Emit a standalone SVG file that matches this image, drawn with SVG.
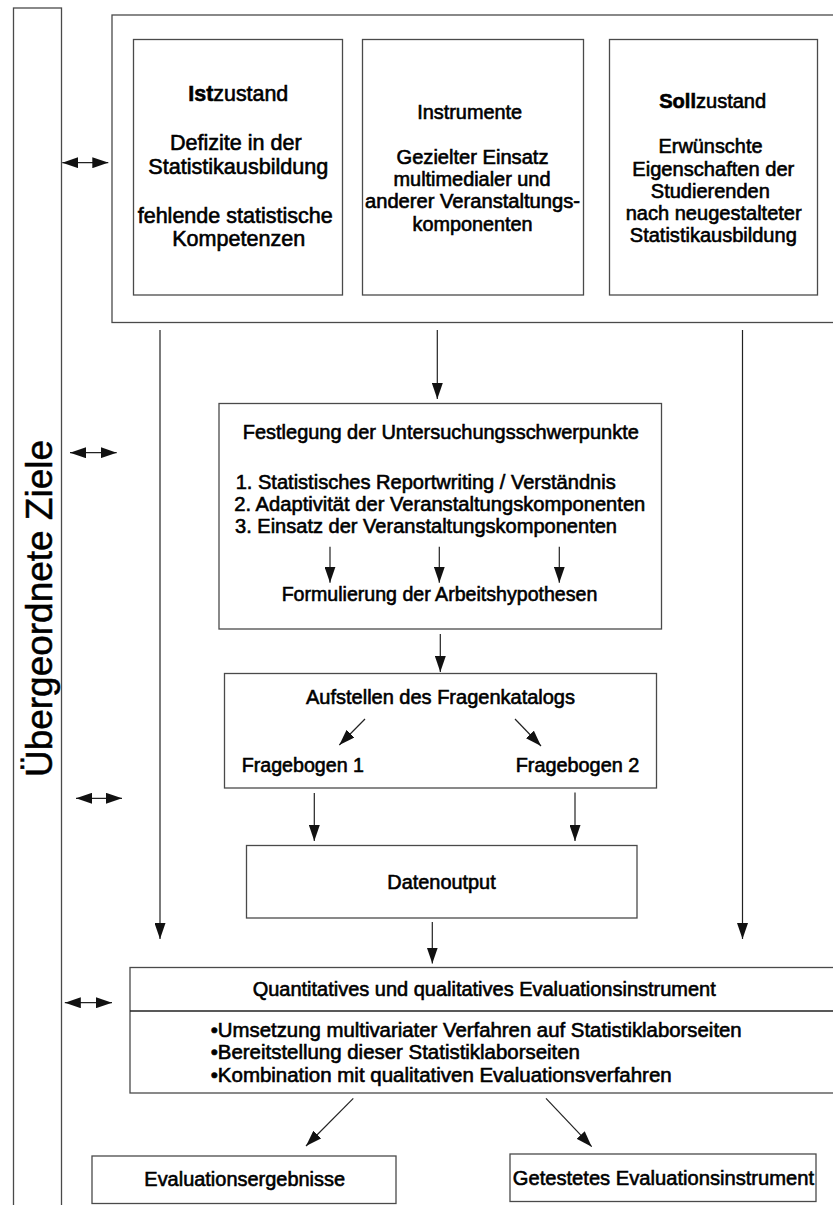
<svg xmlns="http://www.w3.org/2000/svg" width="833" height="1205" viewBox="0 0 833 1205">
  <style>
    .box { fill: #ffffff; stroke: #4a4a4a; stroke-width: 1.3; }
    .frame { fill: none; stroke: #4a4a4a; stroke-width: 1.3; }
    .t { font-family: "Liberation Sans", Arial, sans-serif; font-size: 20px; fill: #000; stroke: #000; stroke-width: 0.6px; }
    .c { text-anchor: middle; }
    .s { text-anchor: start; }
    .ist { font-size: 21.5px; }
    .ins { font-size: 19.5px; }
    .big { font-size: 37px; stroke-width: 0.5px; }
    .b { font-weight: bold; }
    .link { fill: none; stroke: #222; stroke-width: 1.2; marker-end: url(#ah); }
    .both { fill: none; stroke: #222; stroke-width: 1.2; marker-start: url(#ah); marker-end: url(#ah); }
  </style>
  <defs>
    <marker id="ah" markerUnits="userSpaceOnUse" markerWidth="16" markerHeight="11" refX="16" refY="5.5" orient="auto-start-reverse">
      <path d="M0,0 L16,5.5 L0,11 Z" fill="#111"/>
    </marker>
  </defs>

  <rect width="833" height="1205" fill="#ffffff"/>

  <!-- vertical side column with the overall goals -->
  <g id="ziele">
    <rect class="frame" x="13.5" y="8" width="48" height="1210"/>
    <text class="t c big" transform="translate(52,608.5) rotate(-90)" x="0" y="0" textLength="337" lengthAdjust="spacingAndGlyphs">Übergeordnete Ziele</text>
  </g>

  <!-- outer frame around the three state boxes -->
  <g id="rahmen">
    <rect class="frame" x="112" y="15" width="740" height="307.5"/>
  </g>

  <g id="istzustand">
    <rect class="box" x="133.5" y="39.5" width="209" height="255.5"/>
    <text class="t c ist" x="238.3" y="101" textLength="100" lengthAdjust="spacingAndGlyphs"><tspan class="b">Ist</tspan>zustand</text>
    <text class="t c ist" x="235.8" y="150" textLength="131.7" lengthAdjust="spacingAndGlyphs">Defizite in der</text>
    <text class="t c ist" x="238.3" y="174" textLength="180" lengthAdjust="spacingAndGlyphs">Statistikausbildung</text>
    <text class="t c ist" x="235.2" y="223" textLength="195" lengthAdjust="spacingAndGlyphs">fehlende statistische</text>
    <text class="t c ist" x="238.7" y="246" textLength="133" lengthAdjust="spacingAndGlyphs">Kompetenzen</text>
  </g>

  <g id="instrumente">
    <rect class="box" x="362.5" y="39.5" width="221" height="255.5"/>
    <text class="t c ins" x="469.7" y="119" textLength="105" lengthAdjust="spacingAndGlyphs">Instrumente</text>
    <text class="t c ins" x="472.5" y="163.5" textLength="152" lengthAdjust="spacingAndGlyphs">Gezielter Einsatz</text>
    <text class="t c ins" x="472" y="186" textLength="157" lengthAdjust="spacingAndGlyphs">multimedialer und</text>
    <text class="t c ins" x="472.5" y="208.3" textLength="215" lengthAdjust="spacingAndGlyphs">anderer Veranstaltungs-</text>
    <text class="t c ins" x="472.5" y="230.5" textLength="120" lengthAdjust="spacingAndGlyphs">komponenten</text>
  </g>

  <g id="sollzustand">
    <rect class="box" x="609.5" y="39.5" width="208" height="255.5"/>
    <text class="t c" x="712.7" y="107.5" textLength="107" lengthAdjust="spacingAndGlyphs"><tspan class="b">Soll</tspan>zustand</text>
    <text class="t c" x="710.5" y="152.5" textLength="104" lengthAdjust="spacingAndGlyphs">Erwünschte</text>
    <text class="t c" x="713.3" y="175.5" textLength="162" lengthAdjust="spacingAndGlyphs">Eigenschaften der</text>
    <text class="t c" x="710.3" y="197.7" textLength="119" lengthAdjust="spacingAndGlyphs">Studierenden</text>
    <text class="t c" x="713.7" y="220" textLength="176" lengthAdjust="spacingAndGlyphs">nach neugestalteter</text>
    <text class="t c" x="713.3" y="242.3" textLength="167" lengthAdjust="spacingAndGlyphs">Statistikausbildung</text>
  </g>

  <g id="schwerpunkte">
    <rect class="box" x="219" y="403.5" width="442.5" height="225.5"/>
    <text class="t c" x="440.8" y="439" textLength="396" lengthAdjust="spacingAndGlyphs">Festlegung der Untersuchungsschwerpunkte</text>
    <text class="t s" x="235.7" y="489" textLength="380" lengthAdjust="spacingAndGlyphs">1. Statistisches Reportwriting / Verständnis</text>
    <text class="t s" x="234.3" y="511" textLength="411" lengthAdjust="spacingAndGlyphs">2. Adaptivität der Veranstaltungskomponenten</text>
    <text class="t s" x="235" y="533.3" textLength="382" lengthAdjust="spacingAndGlyphs">3. Einsatz der Veranstaltungskomponenten</text>
    <text class="t c" x="439.5" y="600.7" textLength="315.7" lengthAdjust="spacingAndGlyphs">Formulierung der Arbeitshypothesen</text>
  </g>

  <g id="fragenkatalog">
    <rect class="box" x="224.5" y="673.5" width="432" height="114.5"/>
    <text class="t c" x="440.5" y="704" textLength="269" lengthAdjust="spacingAndGlyphs">Aufstellen des Fragenkatalogs</text>
    <text class="t s" x="241.7" y="771.7" textLength="122.3" lengthAdjust="spacingAndGlyphs">Fragebogen 1</text>
    <text class="t s" x="515.7" y="771.7" textLength="123.6" lengthAdjust="spacingAndGlyphs">Fragebogen 2</text>
  </g>

  <g id="datenoutput">
    <rect class="box" x="246.5" y="845.5" width="390.5" height="72.5"/>
    <text class="t c" x="441.5" y="889.3" textLength="108.4" lengthAdjust="spacingAndGlyphs">Datenoutput</text>
  </g>

  <g id="evaluationsinstrument">
    <rect class="box" x="130" y="967.5" width="720" height="125.5"/>
    <line x1="130" y1="1011" x2="850" y2="1011" stroke="#222" stroke-width="1.3"/>
    <text class="t c" x="484.2" y="995.7" textLength="463" lengthAdjust="spacingAndGlyphs">Quantitatives und qualitatives Evaluationsinstrument</text>
    <text class="t s" x="210.7" y="1037" textLength="531" lengthAdjust="spacingAndGlyphs">•Umsetzung multivariater Verfahren auf Statistiklaborseiten</text>
    <text class="t s" x="210.7" y="1059.3" textLength="369.3" lengthAdjust="spacingAndGlyphs">•Bereitstellung dieser Statistiklaborseiten</text>
    <text class="t s" x="210.7" y="1081.7" textLength="461" lengthAdjust="spacingAndGlyphs">•Kombination mit qualitativen Evaluationsverfahren</text>
  </g>

  <g id="ergebnisse">
    <rect class="box" x="92" y="1156" width="304" height="47.5"/>
    <text class="t c" x="244.7" y="1186" textLength="200.7" lengthAdjust="spacingAndGlyphs">Evaluationsergebnisse</text>
  </g>

  <g id="getestet">
    <rect class="box" x="510" y="1154" width="306" height="47.5"/>
    <text class="t c" x="663.4" y="1185" textLength="301.3" lengthAdjust="spacingAndGlyphs">Getestetes Evaluationsinstrument</text>
  </g>

  <!-- connectors -->
  <g id="connectors">
    <line class="link" x1="160" y1="330" x2="160" y2="939"/>
    <line class="link" x1="742.5" y1="330" x2="742.5" y2="939"/>
    <line class="link" x1="437.3" y1="330" x2="437.3" y2="399"/>
    <line class="link" x1="330" y1="546.7" x2="330" y2="582.7"/>
    <line class="link" x1="439.3" y1="546.7" x2="439.3" y2="582.7"/>
    <line class="link" x1="559.3" y1="546.7" x2="559.3" y2="582.7"/>
    <line class="link" x1="440.3" y1="634" x2="440.3" y2="672"/>
    <line class="link" x1="365" y1="719" x2="339.3" y2="745"/>
    <line class="link" x1="515" y1="719" x2="541" y2="746"/>
    <line class="link" x1="314.3" y1="793" x2="314.3" y2="841"/>
    <line class="link" x1="575" y1="792.5" x2="575" y2="841"/>
    <line class="link" x1="432.3" y1="922" x2="432.3" y2="963.5"/>
    <line class="link" x1="353.3" y1="1098.3" x2="306" y2="1146"/>
    <line class="link" x1="546" y1="1098.3" x2="591.7" y2="1146.7"/>
    <line class="both" x1="62.3" y1="162.7" x2="108.3" y2="162.7"/>
    <line class="both" x1="70" y1="452.7" x2="116.7" y2="452.7"/>
    <line class="both" x1="76" y1="798.3" x2="122" y2="798.3"/>
    <line class="both" x1="64.8" y1="1002.7" x2="112" y2="1002.7"/>
  </g>
</svg>
